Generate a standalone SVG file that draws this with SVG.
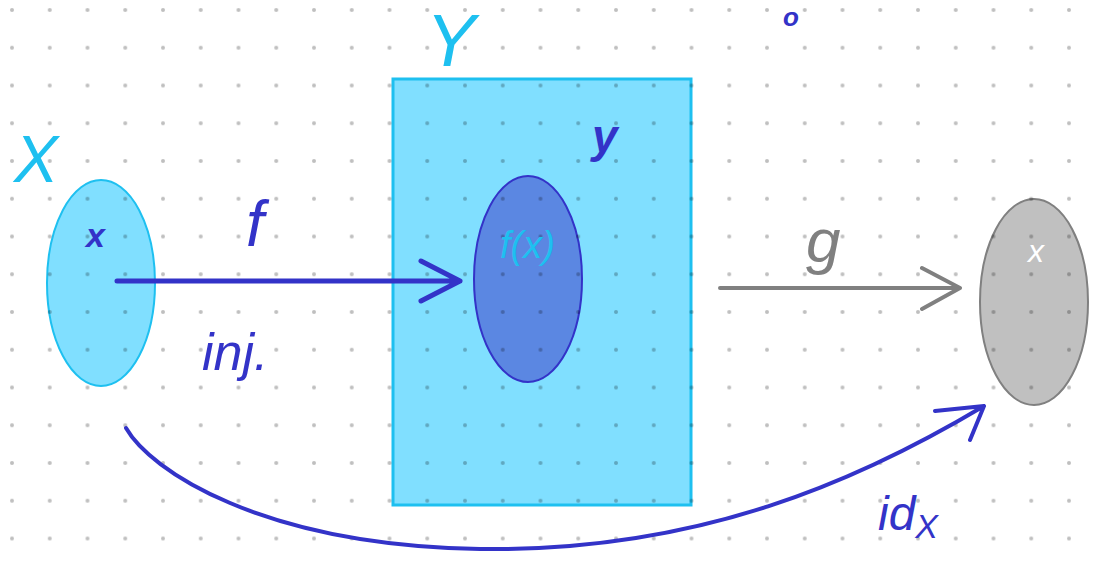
<svg xmlns="http://www.w3.org/2000/svg" width="1097" height="563" viewBox="0 0 1097 563">
<defs>
<pattern id="dots" x="12" y="10" width="37.75" height="37.75" patternUnits="userSpaceOnUse">
<circle cx="0" cy="0" r="2" fill="#000" fill-opacity="0.25"/>
<circle cx="37.75" cy="0" r="2" fill="#000" fill-opacity="0.25"/>
<circle cx="0" cy="37.75" r="2" fill="#000" fill-opacity="0.25"/>
<circle cx="37.75" cy="37.75" r="2" fill="#000" fill-opacity="0.25"/>
</pattern>
<style>
.hand{font-family:"Liberation Sans","DejaVu Sans",sans-serif;font-style:italic}
.blue{fill:#3333c8}
.cyan{fill:#1ec0f0}
.gray{fill:#808080}
.conn{fill:none;stroke-linecap:round;stroke-linejoin:round}
</style>
</defs>
<rect width="1097" height="563" fill="#fff"/>
<g id="node-Y">
<rect x="393" y="79" width="298" height="426" fill="#80dfff" stroke="#1ec0f0" stroke-width="3"/>
</g>
<g id="node-X">
<ellipse cx="101" cy="283" rx="54" ry="103" fill="#80dfff" stroke="#1ec0f0" stroke-width="2"/>
</g>
<g id="node-fX">
<ellipse cx="528" cy="279" rx="54" ry="103" fill="#5b87e2" stroke="#3333c8" stroke-width="2"/>
</g>
<g id="node-Z">
<ellipse cx="1034" cy="302" rx="54" ry="103" fill="#c0c0c0" stroke="#808080" stroke-width="2"/>
</g>
<rect width="1097" height="563" fill="url(#dots)"/>
<g id="connectors">
<path class="conn" d="M117,281 L460,281 M421,261 L460,281 L421,301" stroke="#3333c8" stroke-width="5"/>
<path class="conn" d="M720,288 L960,288 M922,268 L960,288 L922,309" stroke="#808080" stroke-width="4"/>
<path class="conn" d="M126,428 C150,470 260,545 480,549 C700,552 860,480 984,406 M935,411 L984,406 L970,440" stroke="#3333c8" stroke-width="4"/>
</g>
<g id="labels">
<text class="hand cyan" x="14" y="182" font-size="66">X</text>
<text class="hand cyan" x="426" y="66" font-size="74">Y</text>
<text class="hand blue" x="86" y="247" font-size="34" font-weight="bold">x</text>
<text class="hand blue" x="246" y="246" font-size="64">f</text>
<text class="hand blue" x="202" y="370" font-size="52">inj.</text>
<text class="hand cyan" x="500" y="258" font-size="38">f(x)</text>
<text class="hand blue" x="592" y="152" font-size="46" font-weight="bold">y</text>
<text class="hand gray" x="806" y="262" font-size="62">g</text>
<text class="hand" x="1028" y="262" font-size="32" fill="#fff">x</text>
<text class="hand blue" x="878" y="530" font-size="48">id<tspan font-size="34" dy="8">X</tspan></text>
<text class="hand blue" x="783" y="26" font-size="26" font-weight="bold">o</text>
</g>
</svg>
